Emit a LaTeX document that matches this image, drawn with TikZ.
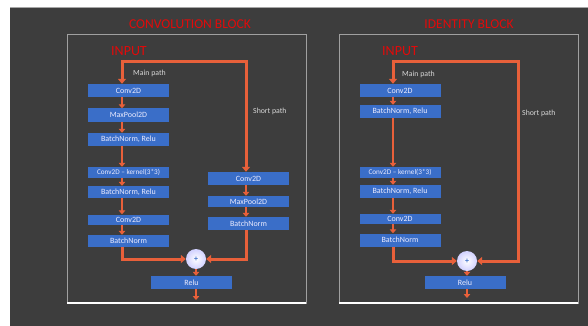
\documentclass[tikz,border=0pt]{standalone}
\usepackage{fontspec}
\setmainfont{Carlito}
\usetikzlibrary{arrows.meta}
\definecolor{bg}{RGB}{61,61,61}
\definecolor{boxblue}{RGB}{58,110,200}
\definecolor{orng}{RGB}{232,96,58}
\definecolor{ttlred}{RGB}{225,10,10}
\definecolor{frame}{RGB}{160,160,160}
\definecolor{lbl}{RGB}{215,215,215}
\tikzset{
  blk/.style={fill=boxblue, text=white!92!blue, minimum width=81pt, inner sep=0pt, font=\fontsize{8}{8}\selectfont},
  small/.style={font=\fontsize{7.2}{7.2}\selectfont},
  thick line/.style={draw=orng, line width=3pt},
  arr/.style={draw=orng, line width=2pt, -{Triangle[length=4pt,width=6.5pt]}},
  bigarr/.style={draw=orng, line width=3pt, -{Triangle[length=5pt,width=8pt]}},
  panel/.style={draw=frame, line width=1pt},
  ttl/.style={text=ttlred, font=\fontsize{13.5}{14}\selectfont},
  inp/.style={text=ttlred, font=\fontsize{14}{14}\selectfont},
  pathlbl/.style={text=lbl, anchor=west, inner sep=0pt, font=\fontsize{7.8}{8}\selectfont},
  plus/.style={circle, minimum size=20pt, inner sep=0pt, inner color=white, outer color=blue!18!white, text=boxblue, font=\fontsize{8}{8}\selectfont\bfseries},
}
\begin{document}
\begin{tikzpicture}[x=1pt,y=-1pt]
\useasboundingbox (0,0) rectangle (588,326);
\fill[white] (0,0) rectangle (588,326);
\fill[bg] (10,7) rectangle (588,326);
\draw[gray!70, line width=0.8pt] (10,7.4) -- (588,7.4);

% ---------------- Convolution block ----------------
\draw[panel] (67,35) rectangle (306,303);
\draw[white, line width=1.5pt] (67,303) -- (306,303);
\node[ttl] (t1) at (190,24) {CONVOLUTION BLOCK};
\node[inp] (in1) at (129,51) {INPUT};
\node[pathlbl] (mp1) at (133,73.5) {Main path};
\node[pathlbl] (sp1) at (253,111) {Short path};

\node[blk, minimum height=13pt] (c1) at (128.5,90.5) {Conv2D};
\node[blk, minimum height=13pt] (c2) at (128.5,115) {MaxPool2D};
\node[blk, minimum height=13pt] (c3) at (128.5,139.5) {BatchNorm, Relu};
\node[blk, small, minimum height=11pt] (c4) at (128.5,172.5) {Conv2D – kernel(3*3)};
\node[blk, minimum height=12pt] (c5) at (128.5,192) {BatchNorm, Relu};
\node[blk, minimum height=10pt] (c6) at (128.5,219.5) {Conv2D};
\node[blk, minimum height=12pt] (c7) at (128.5,241) {BatchNorm};

\node[blk, minimum height=13pt] (s1) at (248.5,178.5) {Conv2D};
\node[blk, minimum height=11pt] (s2) at (248.5,201.5) {MaxPool2D};
\node[blk, minimum height=13pt] (s3) at (248.5,223.5) {BatchNorm};

\node[plus] (p1) at (196,259) {+};
\node[blk, minimum height=13pt] (r1) at (191.5,282.5) {Relu};

\coordinate (mx1) at (122,0);
\coordinate (sx1) at (246,0);
\coordinate (px1) at (196,0);
\coordinate (top1) at (122,60);
\coordinate (hz1) at (122,62);
\coordinate (cor1) at (246,62);
\coordinate (out1) at (196,300);

\draw[bigarr] (top1) -- (c1.north -| mx1);
\draw[thick line] (hz1) -- ([xshift=1.5pt]cor1);
\draw[bigarr] (cor1) -- (s1.north -| sx1);
\draw[arr] (c1.south -| mx1) -- (c2.north -| mx1);
\draw[arr] (c2.south -| mx1) -- (c3.north -| mx1);
\draw[arr] (c3.south -| mx1) -- (c4.north -| mx1);
\draw[arr] (c4.south -| mx1) -- (c5.north -| mx1);
\draw[arr] (c5.south -| mx1) -- (c6.north -| mx1);
\draw[arr] (c6.south -| mx1) -- (c7.north -| mx1);
\draw[arr] (s1.south -| sx1) -- (s2.north -| sx1);
\draw[arr] (s2.south -| sx1) -- (s3.north -| sx1);
\draw[bigarr] (c7.south -| mx1) |- (p1.west);
\draw[bigarr] (s3.south -| sx1) |- (p1.east);
\draw[arr] (p1.south) -- (r1.north -| px1);
\draw[arr] (r1.south -| px1) -- (out1);

% ---------------- Identity block ----------------
\draw[panel] (339,35) rectangle (578,303);
\draw[white, line width=1.5pt] (339,303) -- (578,303);
\node[ttl] (t2) at (469,24) {IDENTITY BLOCK};
\node[inp] (in2) at (400,51) {INPUT};
\node[pathlbl] (mp2) at (402,74.5) {Main path};
\node[pathlbl] (sp2) at (522,113) {Short path};

\node[blk, minimum height=13pt] (d1) at (400,90.5) {Conv2D};
\node[blk, minimum height=13pt] (d2) at (400,111.5) {BatchNorm, Relu};
\node[blk, small, minimum height=11pt] (d3) at (400,172.5) {Conv2D – kernel(3*3)};
\node[blk, minimum height=13pt] (d4) at (400,191.5) {BatchNorm, Relu};
\node[blk, minimum height=10pt] (d5) at (400,219) {Conv2D};
\node[blk, minimum height=13pt] (d6) at (400,240) {BatchNorm};

\node[plus] (p2) at (467,261) {+};
\node[blk, minimum height=13pt] (r2) at (465,282.5) {Relu};

\coordinate (mx2) at (393,0);
\coordinate (px2) at (467,0);
\coordinate (top2) at (393,60);
\coordinate (hz2) at (393,62);
\coordinate (cor2) at (517,62);
\coordinate (out2) at (467,298);

\draw[bigarr] (top2) -- (d1.north -| mx2);
\draw[bigarr] (hz2) -- ([xshift=1.5pt]cor2) |- (p2.east);
\draw[arr] (d1.south -| mx2) -- (d2.north -| mx2);
\draw[arr] (d2.south -| mx2) -- (d3.north -| mx2);
\draw[arr] (d3.south -| mx2) -- (d4.north -| mx2);
\draw[arr] (d4.south -| mx2) -- (d5.north -| mx2);
\draw[arr] (d5.south -| mx2) -- (d6.north -| mx2);
\draw[bigarr] (d6.south -| mx2) |- (p2.west);
\draw[arr] (p2.south) -- (r2.north -| px2);
\draw[arr] (r2.south -| px2) -- (out2);
\end{tikzpicture}
\end{document}
